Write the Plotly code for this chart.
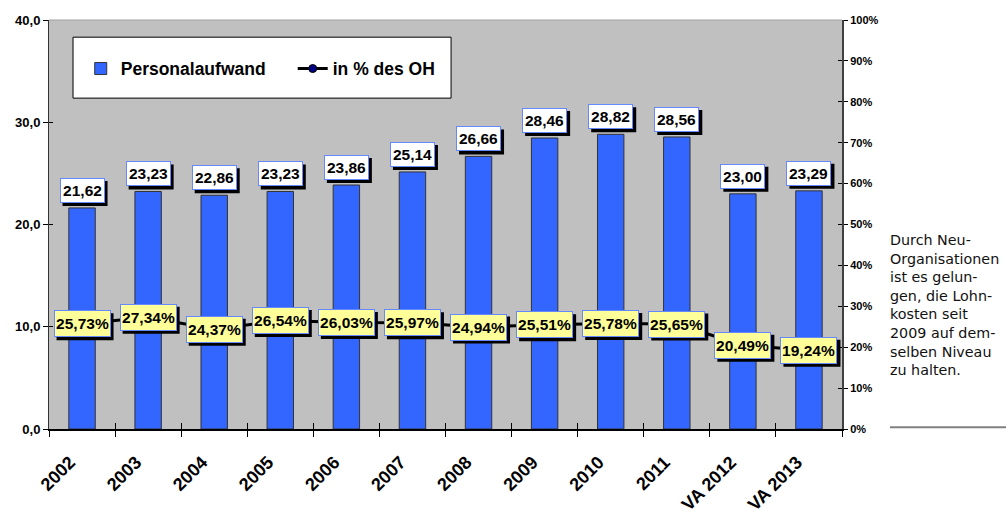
import plotly.graph_objects as go

categories = ["2002", "2003", "2004", "2005", "2006", "2007", "2008", "2009", "2010", "2011", "VA 2012", "VA 2013"]
personalaufwand = [21.62, 23.23, 22.86, 23.23, 23.86, 25.14, 26.66, 28.46, 28.82, 28.56, 23.00, 23.29]
anteil_oh = [25.73, 27.34, 24.37, 26.54, 26.03, 25.97, 24.94, 25.51, 25.78, 25.65, 20.49, 19.24]
y_ticks = [0, 10, 20, 30, 40]
note_lines = ["Durch Neu-", "Organisationen", "ist es gelun-", "gen, die Lohn-", "kosten seit",
              "2009 auf dem-", "selben Niveau", "zu halten."]

FONT = "Liberation Sans, Arial, sans-serif"
BLUE = "#3366FF"
LBL_BORDER = "#6688FF"

def de(v, n=2):
    return f"{v:.{n}f}".replace(".", ",")

n = len(categories)
boundaries = [i - 0.5 for i in range(n + 1)]

fig = go.Figure()
fig.add_trace(go.Bar(
    x=categories, y=personalaufwand, name="Personalaufwand",
    marker=dict(color=BLUE, line=dict(color="#333333", width=1)),
    width=0.4, yaxis="y",
))
fig.add_trace(go.Scatter(
    x=categories, y=[v / 100 for v in anteil_oh], name="in % des OH",
    mode="lines+markers", yaxis="y2",
    line=dict(color="black", width=3),
    marker=dict(color="#000080", size=8, line=dict(color="black", width=1)),
))
# invisible helper traces for the overlay axes that draw the inner half of crossing ticks
fig.add_trace(go.Scatter(x=boundaries, y=[None] * len(boundaries), xaxis="x2", yaxis="y3",
                         showlegend=False, hoverinfo="skip"))
fig.add_trace(go.Scatter(x=categories, y=[None] * n, xaxis="x", yaxis="y4",
                         showlegend=False, hoverinfo="skip"))

# label box geometry (pixels)
VW, VH, VGAP = 43, 23, 5      # value label inner box
PW, PH = 55, 25               # percent label inner box
SH = 3                        # shadow offset

annotations = []
shapes = []
for i, v in enumerate(personalaufwand):
    shapes.append(dict(
        type="rect", xref="x", yref="y", xsizemode="pixel", ysizemode="pixel",
        xanchor=i, yanchor=v,
        x0=-(VW / 2 + 1) + SH, x1=(VW / 2 + 1) + SH,
        y0=VGAP - SH, y1=VGAP + VH + 2 - SH,
        fillcolor="black", line=dict(width=0), layer="above",
    ))
    annotations.append(dict(
        x=i, y=v, xref="x", yref="y", yanchor="bottom", showarrow=False,
        text=de(v), yshift=VGAP, width=VW, height=VH,
        font=dict(family=FONT, size=15.5, color="black", weight="bold"),
        bgcolor="white", bordercolor=LBL_BORDER, borderwidth=1, borderpad=0,
    ))
for i, v in enumerate(anteil_oh):
    shapes.append(dict(
        type="rect", xref="x", yref="y2", xsizemode="pixel", ysizemode="pixel",
        xanchor=i, yanchor=v / 100,
        x0=-(PW / 2 + 1) + SH, x1=(PW / 2 + 1) + SH,
        y0=-(PH / 2 + 1) - SH, y1=(PH / 2 + 1) - SH,
        fillcolor="black", line=dict(width=0), layer="above",
    ))
    annotations.append(dict(
        x=i, y=v / 100, xref="x", yref="y2", yanchor="middle", showarrow=False,
        text=de(v) + "%", width=PW, height=PH,
        font=dict(family=FONT, size=15.5, color="black", weight="bold"),
        bgcolor="#FFFF99", bordercolor=LBL_BORDER, borderwidth=1, borderpad=0,
    ))
# side note
annotations.append(dict(
    x=1.0585, y=0.303, xref="paper", yref="paper", xanchor="left", yanchor="middle",
    showarrow=False, align="left", text="<br>".join(note_lines),
    font=dict(family="DejaVu Sans, sans-serif", size=14.3, color="#111111"),
))

shapes += [
    dict(type="rect", xref="paper", yref="paper", x0=0.0303, x1=0.507, y0=0.809, y1=0.958,
         fillcolor="white", line=dict(color="black", width=1), layer="below"),
    dict(type="line", xref="paper", yref="paper", x0=0, x1=1, y0=1, y1=1,
         line=dict(color="#A0A0A0", width=1)),
    dict(type="line", xref="paper", yref="paper", x0=1.0605, x1=1.21, y0=0.004, y1=0.004,
         line=dict(color="#808080", width=2)),
]

fig.update_layout(
    width=1006, height=514,
    margin=dict(l=49, r=164, t=20, b=85, autoexpand=False),
    paper_bgcolor="white", plot_bgcolor="#C0C0C0",
    separators=",.",
    barmode="group",
    font=dict(family=FONT, color="black"),
    showlegend=True,
    legend=dict(
        orientation="h", x=0.04, y=0.881, xanchor="left", yanchor="middle",
        bgcolor="rgba(0,0,0,0)", borderwidth=0,
        font=dict(family=FONT, size=17.5, color="black", weight="bold"),
        entrywidth=167, entrywidthmode="pixels",
    ),
    xaxis=dict(
        type="category", categoryorder="array", categoryarray=categories,
        tickson="boundaries", ticks="outside", ticklen=6, tickcolor="black", tickwidth=1,
        showline=True, linecolor="black", linewidth=1.5, showgrid=False, zeroline=False,
        tickangle=-45, automargin=False, ticklabelstandoff=14, ticklabelshift=-12,
        tickfont=dict(family=FONT, size=18, color="black", weight="bold"),
        range=[-0.5, n - 0.5],
    ),
    xaxis2=dict(
        type="linear", overlaying="x", anchor="y", side="bottom",
        tickvals=boundaries, ticks="inside", ticklen=6, tickcolor="black", tickwidth=1,
        showticklabels=False, showline=False, showgrid=False, zeroline=False,
        range=[-0.5, n - 0.5], automargin=False,
    ),
    yaxis=dict(
        range=[0, 40], tickvals=y_ticks, tickformat=".1f",
        ticks="outside", ticklen=5, tickcolor="black", showline=True, linecolor="#333333",
        linewidth=1, showgrid=False, zeroline=False, automargin=False,
        tickfont=dict(family=FONT, size=13, color="black", weight="bold"),
    ),
    yaxis3=dict(
        range=[0, 40], tickvals=y_ticks, overlaying="y", side="left", anchor="x",
        ticks="inside", ticklen=4, tickcolor="black", showticklabels=False,
        showline=False, showgrid=False, zeroline=False,
    ),
    yaxis2=dict(
        range=[0, 1], dtick=0.1, tickformat=".0%", overlaying="y", side="right", anchor="x",
        ticks="outside", ticklen=4, tickcolor="black", showline=True, linecolor="#404040",
        linewidth=2, showgrid=False, zeroline=False, automargin=False,
        tickfont=dict(family=FONT, size=11, color="black", weight="bold"),
    ),
    yaxis4=dict(
        range=[0, 1], dtick=0.1, overlaying="y", side="right", anchor="x",
        ticks="inside", ticklen=4, tickcolor="black", showticklabels=False,
        showline=False, showgrid=False, zeroline=False,
    ),
    annotations=annotations,
    shapes=shapes,
)

fig.write_html("out.html")
